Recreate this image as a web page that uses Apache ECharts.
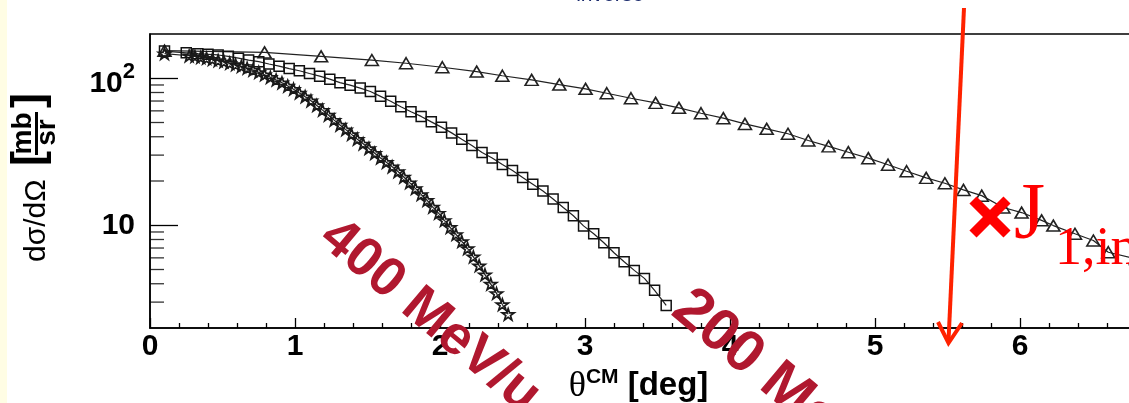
<!DOCTYPE html>
<html><head><meta charset="utf-8">
<script src="https://cdn.jsdelivr.net/npm/echarts@6.0.0/dist/echarts.min.js"></script>
<style>html,body{margin:0;padding:0;overflow:hidden;background:#fff;width:1129px;height:403px}
#c{width:1200px;height:403px}</style></head>
<body><div id="c"></div>
<script>
// ---- data ----
const triTheta = [0.10,0.79,1.18,1.53,1.766,2.016,2.253,2.43,2.632,2.823,3.004,3.15,3.317,3.487,3.648,3.80,3.954,4.103,4.253,4.40,4.54,4.68,4.816,4.954,5.09,5.218,5.353,5.482,5.61,5.736,5.885,6.011,6.149,6.23,6.379,6.506,6.609,6.8];
const triVal   = [154,150,141,133,126.5,118.8,111,104,97.5,90.6,84.7,79.1,73.1,68,62.9,57.8,53.5,48.9,45.3,41.9,37.7,34.4,31.4,28.6,25.8,23.3,21.0,19.3,17.4,15.9,13.2,12.2,10.8,9.95,8.75,7.87,6.55,5.9];

const sqTheta = [0.10,0.25,0.33,0.40,0.47,0.54,0.61,0.68,0.75,0.82,0.89,0.96,1.03,1.10,1.17,1.24,1.31,1.38,1.45,1.52,1.59,1.66,1.73,1.80,1.87,1.94,2.01,2.08,2.15,2.22,2.29,2.36,2.43,2.50,2.57,2.64,2.71,2.78,2.85,2.92,2.99,3.06,3.13,3.20,3.27,3.34,3.41,3.48,3.56];
const sqVal   = [153,149,147,145.5,144,141,137,133,129.7,125,120.8,116.4,112.5,107.7,103.3,98.6,93.3,89.7,85.7,81.3,75.3,69.7,64,59.2,55,50.5,46.5,42.5,38.5,34.9,31.3,28.7,25.9,23.6,21.1,19,17.1,15.1,13.2,11.6,9.9,8.75,7.6,6.5,5.65,4.93,4.35,3.61,2.85];

const starTheta = [0.10,0.27,0.31,0.35,0.39,0.43,0.47,0.51,0.55,0.59,0.63,0.67,0.71,0.75,0.79,0.83,0.87,0.91,0.95,0.99,1.03,1.07,1.11,1.15,1.19,1.23,1.27,1.31,1.35,1.39,1.43,1.47,1.51,1.55,1.59,1.63,1.67,1.71,1.75,1.79,1.83,1.87,1.91,1.95,1.99,2.03,2.07,2.11,2.15,2.19,2.23,2.27,2.31,2.35,2.39,2.43,2.47];
const starVal   = [147,142.2,140.8,138.9,136.9,134.6,132.1,129.6,126.6,123.7,120.5,117.2,113.8,109.6,105.7,101.5,97.4,93.2,88.6,84.3,79.5,74.9,70.3,65.3,60.7,56.2,51.9,48.1,44.7,41.5,38.5,35.8,33.3,30.9,28.7,26.8,25.0,23.2,21.3,19.5,17.8,16.2,14.8,13.3,12.1,10.8,9.68,8.67,7.76,6.95,6.10,5.31,4.61,3.98,3.44,2.89,2.48];

const yMinorTicks = [3,4,5,6,7,8,9,20,30,40,50,60,70,80,90];
const xTitle = ['θ', 'CM', ' [deg]'];
const yTitle = ['dσ/dΩ', 'mb', 'sr'];
const topTitle = 'inverse';
const notes = ['400 MeV/u', '200 MeV/u', 'J', '1,in'];

// ---- chart ----
const FONT = '"Liberation Sans", Arial, Helvetica, sans-serif';
const SERIF = '"Liberation Serif", "Times New Roman", serif';
const pairs = (xs, ys) => xs.map((x, i) => [x, ys[i]]);
const STAR = 'path://M50,0 L61.8,34.5 L97.6,34.5 L68.5,55.9 L79.4,90.5 L50,69.1 L20.6,90.5 L31.5,55.9 L2.4,34.5 L38.2,34.5 Z';
const deg = Math.PI / 180;

const chart = echarts.init(document.getElementById('c'), null, { renderer: 'canvas' });
const option = {
  animation: false,
  backgroundColor: '#ffffff',
  grid: { left: 150, top: 34, width: 1015, height: 294, show: true, borderColor: '#000', borderWidth: 1.5,
          backgroundColor: 'transparent', containLabel: false, outerBoundsMode: 'none' },
  xAxis: {
    type: 'value', min: 0, max: 7, interval: 1,
    axisLine: { show: true, onZero: false, lineStyle: { color: '#000', width: 1.5 } },
    axisTick: { show: true, inside: true, length: 10, lineStyle: { color: '#000', width: 1.3 } },
    minorTick: { show: true, splitNumber: 5, length: 5, lineStyle: { color: '#000', width: 1.3 } },
    splitLine: { show: false },
    axisLabel: { color: '#000', fontFamily: FONT, fontWeight: 'bold', fontSize: 30, margin: 4, showMaxLabel: false },
    name: '{t|' + xTitle[0] + '}{cm|' + xTitle[1] + '}{d|' + xTitle[2] + '}',
    nameLocation: 'middle', nameGap: 34,
    nameTextStyle: {
      padding: [0, 38, 0, 0],
      rich: {
        t: { fontFamily: SERIF, fontSize: 36, color: '#000' },
        cm: { fontFamily: FONT, fontSize: 21, fontWeight: 'bold', color: '#000', lineHeight: 21, padding: [0, 0, 18, 0] },
        d: { fontFamily: FONT, fontSize: 33, fontWeight: 'bold', color: '#000' }
      }
    }
  },
  yAxis: {
    type: 'log', logBase: 10, min: 2, max: 200,
    axisLine: { show: true, lineStyle: { color: '#000', width: 1.5 } },
    axisTick: { show: true, inside: true, length: 28, lineStyle: { color: '#000', width: 1.3 } },
    splitLine: { show: false },
    axisLabel: {
      showMinLabel: false, showMaxLabel: false, margin: 15,
      formatter: v => { const e = Math.round(Math.log10(v)); return e === 1 ? '{p|10}' : '{b|10}{s|' + e + '}'; },
      rich: {
        p: { fontFamily: FONT, fontWeight: 'bold', fontSize: 30, color: '#000' },
        b: { fontFamily: FONT, fontWeight: 'bold', fontSize: 30, color: '#000', lineHeight: 40, verticalAlign: 'bottom' },
        s: { fontFamily: FONT, fontWeight: 'bold', fontSize: 22, color: '#000', lineHeight: 40, verticalAlign: 'top', padding: [3, 0, 0, 0] }
      }
    }
  },
  series: [
    { type: 'line', data: pairs(triTheta, triVal), symbol: 'triangle', symbolSize: [13, 11], showAllSymbol: true,
      lineStyle: { color: '#222', width: 1.2 }, itemStyle: { color: 'rgba(0,0,0,0)', borderColor: '#222', borderWidth: 1.6 }, z: 3 },
    { type: 'line', data: pairs(sqTheta, sqVal), symbol: 'rect', symbolSize: 10, showAllSymbol: true,
      lineStyle: { color: '#222', width: 1.2 }, itemStyle: { color: 'rgba(0,0,0,0)', borderColor: '#111', borderWidth: 1.5 }, z: 3 },
    { type: 'line', data: pairs(starTheta, starVal), symbol: STAR, symbolSize: 12, symbolKeepAspect: true, showAllSymbol: true,
      lineStyle: { color: '#222', width: 1.2 }, itemStyle: { color: 'rgba(0,0,0,0)', borderColor: '#1a1a1a', borderWidth: 1.7 }, z: 3 },
    { type: 'scatter', data: yMinorTicks.map(v => [0, v]), symbol: 'rect', symbolSize: [14, 1.3], symbolOffset: [7, 0],
      itemStyle: { color: '#000' }, silent: true, clip: false, z: 4 }
  ],
  graphic: [
    { type: 'rect', shape: { x: 0, y: 0, width: 7, height: 403 }, style: { fill: '#FFFDE4' }, z: 100 },
    { type: 'text', x: 610, y: -4.5, style: { text: topTitle, font: '21px ' + FONT, fill: '#1a2a6c', textAlign: 'center', textVerticalAlign: 'middle' }, z: 100 },
    { type: 'group', x: 35, y: 180, rotation: Math.PI / 2, z: 100, children: [
      { type: 'text', x: -82, y: 1.6, style: { text: yTitle[0], font: '30px ' + FONT, fill: '#000', textAlign: 'left', textVerticalAlign: 'middle' } },
      { type: 'text', x: 14, y: -5, style: { text: '[', font: 'bold 45px ' + FONT, fill: '#000', textAlign: 'left', textVerticalAlign: 'middle' } },
      { type: 'text', x: 46.5, y: -11.7, style: { text: yTitle[1], font: 'bold 28px ' + FONT, fill: '#000', textAlign: 'center', textVerticalAlign: 'middle' } },
      { type: 'line', shape: { x1: 25, y1: 1.5, x2: 68, y2: 1.5 }, style: { stroke: '#000', lineWidth: 3 } },
      { type: 'text', x: 47.5, y: 12.3, style: { text: yTitle[2], font: 'bold 28px ' + FONT, fill: '#000', textAlign: 'center', textVerticalAlign: 'middle' } },
      { type: 'text', x: 72, y: -5, style: { text: ']', font: 'bold 45px ' + FONT, fill: '#000', textAlign: 'left', textVerticalAlign: 'middle' } }
    ] },
    { type: 'text', x: 327, y: 230, rotation: -40 * deg, z: 110, style: { text: notes[0], font: 'bold 55px ' + FONT, fill: '#B0182F', textAlign: 'left', textVerticalAlign: 'middle' } },
    { type: 'text', x: 680, y: 301, rotation: -40 * deg, z: 110, style: { text: notes[1], font: 'bold 59px ' + FONT, fill: '#B0182F', textAlign: 'left', textVerticalAlign: 'middle' } },
    { type: 'line', z: 110, shape: { x1: 964, y1: 8, x2: 948.5, y2: 341 }, style: { stroke: '#FF2200', lineWidth: 4 } },
    { type: 'polyline', z: 110, shape: { points: [[938, 322], [948.5, 343], [962, 323]] }, style: { stroke: '#FF2200', lineWidth: 4, fill: null } },
    { type: 'line', z: 110, shape: { x1: 973, y1: 200, x2: 1007, y2: 234 }, style: { stroke: '#FF0000', lineWidth: 10 } },
    { type: 'line', z: 110, shape: { x1: 1007, y1: 200, x2: 973, y2: 234 }, style: { stroke: '#FF0000', lineWidth: 10 } },
    { type: 'text', x: 1014, y: 217, z: 110, style: { text: notes[2], font: '80px ' + SERIF, fill: '#FF0000', textAlign: 'left', textVerticalAlign: 'middle' } },
    { type: 'text', x: 1055, y: 250, z: 110, style: { text: notes[3], font: '54px ' + SERIF, fill: '#FF0000', textAlign: 'left', textVerticalAlign: 'middle' } }
  ]
};
chart.setOption(option);
</script>
</body></html>
